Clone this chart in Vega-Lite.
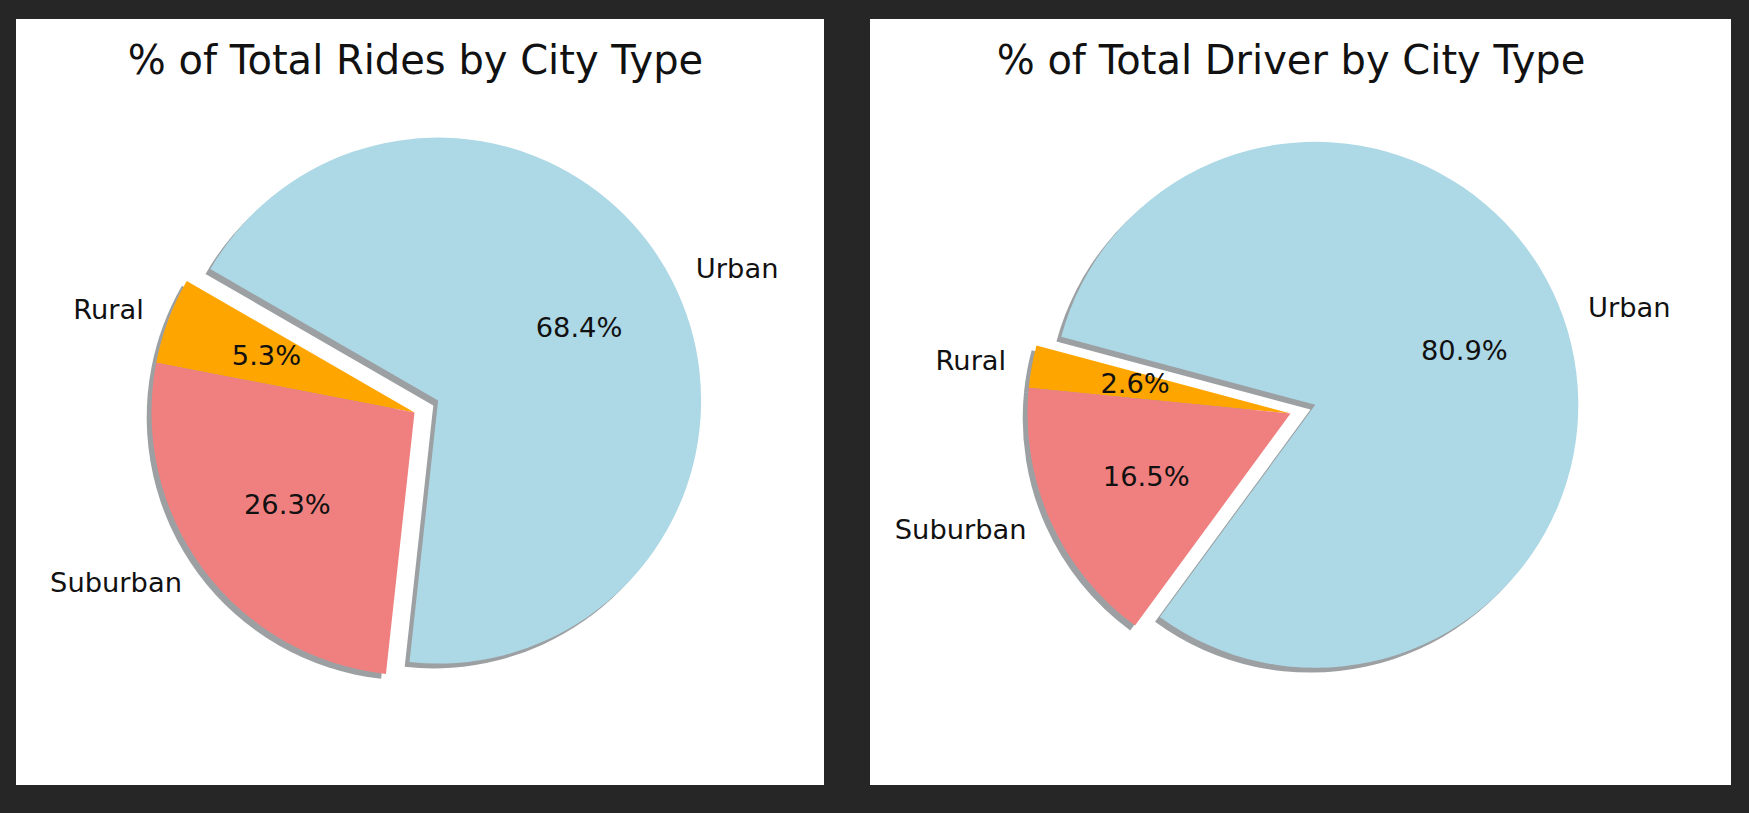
{
  "$schema": "https://vega.github.io/schema/vega-lite/v6.json",
  "background": "#262626",
  "padding": {"left": 16, "top": 19, "right": 18, "bottom": 28},
  "autosize": {"type": "pad"},
  "spacing": 46,
  "config": {
    "font": "DejaVu Sans",
    "view": {"fill": "white", "stroke": null},
    "title": {"font": "DejaVu Sans", "fontSize": 40, "fontWeight": "normal", "color": "#111111", "baseline": "alphabetic", "anchor": "middle"}
  },
  "datasets": {
    "rides": [
      {"type": "Rural", "share": 0.053},
      {"type": "Suburban", "share": 0.263},
      {"type": "Urban", "share": 0.684}
    ],
    "drivers": [
      {"type": "Rural", "share": 0.026},
      {"type": "Suburban", "share": 0.165},
      {"type": "Urban", "share": 0.809}
    ]
  },
  "hconcat": [
    {
      "width": 808,
      "height": 766,
      "view": {"fill": "white", "stroke": null},
      "data": {"name": "rides"},
      "title": {"text": "% of Total Rides by City Type", "offset": -63, "dx": -4.5},
      "encoding": {
        "theta": {"field": "share", "type": "quantitative", "stack": true, "scale": {"domain": [0, 1], "range": [-1.0472, -7.3304]}},
        "detail": {"field": "type", "type": "nominal"}
      },
      "layer": [
        {"mark": {"type": "arc", "radius": 263, "xOffset": -10.3, "yOffset": 15.3, "fill": "#3a4245"},
         "encoding": {"opacity": {"condition": {"test": "datum.type !== 'Urban'", "value": 0.5}, "value": 0}}},
        {"mark": {"type": "arc", "radius": 263, "xOffset": 13.3, "yOffset": 3.4, "fill": "#3a4245"},
         "encoding": {"opacity": {"condition": {"test": "datum.type === 'Urban'", "value": 0.5}, "value": 0}}},
        {"mark": {"type": "arc", "radius": 263, "xOffset": -5.5, "yOffset": 10.5},
         "encoding": {
           "color": {"field": "type", "type": "nominal", "legend": null, "scale": {"domain": ["Rural", "Suburban", "Urban"], "range": ["#FFA500", "#F08080", "#ADD8E6"]}},
           "opacity": {"condition": {"test": "datum.type !== 'Urban'", "value": 1}, "value": 0}}},
        {"mark": {"type": "arc", "radius": 263, "xOffset": 18.1, "yOffset": -1.4},
         "encoding": {
           "color": {"field": "type", "type": "nominal", "legend": null, "scale": {"domain": ["Rural", "Suburban", "Urban"], "range": ["#FFA500", "#F08080", "#ADD8E6"]}},
           "opacity": {"condition": {"test": "datum.type === 'Urban'", "value": 1}, "value": 0}}},
        {"mark": {"type": "text", "radius": 158, "xOffset": -5.5, "yOffset": 10.5, "fontSize": 27.3, "color": "#111111", "align": "center", "baseline": "middle"},
         "encoding": {"text": {"field": "share", "type": "quantitative", "format": ".1%"},
           "opacity": {"condition": {"test": "datum.type !== 'Urban'", "value": 1}, "value": 0}}},
        {"mark": {"type": "text", "radius": 158, "xOffset": 18.1, "yOffset": -1.4, "fontSize": 27.3, "color": "#111111", "align": "center", "baseline": "middle"},
         "encoding": {"text": {"field": "share", "type": "quantitative", "format": ".1%"},
           "opacity": {"condition": {"test": "datum.type === 'Urban'", "value": 1}, "value": 0}}},
        {"mark": {"type": "text", "radius": 289, "xOffset": -5.5, "yOffset": 10.5, "fontSize": 27.3, "color": "#111111", "align": "right", "baseline": "middle"},
         "encoding": {"text": {"field": "type", "type": "nominal"},
           "opacity": {"condition": {"test": "datum.type !== 'Urban'", "value": 1}, "value": 0}}},
        {"mark": {"type": "text", "radius": 289, "xOffset": 18.1, "yOffset": -1.4, "fontSize": 27.3, "color": "#111111", "align": "left", "baseline": "middle"},
         "encoding": {"text": {"field": "type", "type": "nominal"},
           "opacity": {"condition": {"test": "datum.type === 'Urban'", "value": 1}, "value": 0}}}
      ]
    },
    {
      "width": 861,
      "height": 766,
      "view": {"fill": "white", "stroke": null},
      "data": {"name": "drivers"},
      "title": {"text": "% of Total Driver by City Type", "offset": -63, "dx": -9.5},
      "encoding": {
        "theta": {"field": "share", "type": "quantitative", "stack": true, "scale": {"domain": [0, 1], "range": [-1.309, -7.5922]}},
        "detail": {"field": "type", "type": "nominal"}
      },
      "layer": [
        {"mark": {"type": "arc", "radius": 263, "xOffset": -14.8, "yOffset": 16.3, "fill": "#3a4245"},
         "encoding": {"opacity": {"condition": {"test": "datum.type !== 'Urban'", "value": 0.5}, "value": 0}}},
        {"mark": {"type": "arc", "radius": 263, "xOffset": 10, "yOffset": 7.6, "fill": "#3a4245"},
         "encoding": {"opacity": {"condition": {"test": "datum.type === 'Urban'", "value": 0.5}, "value": 0}}},
        {"mark": {"type": "arc", "radius": 263, "xOffset": -10, "yOffset": 11.5},
         "encoding": {
           "color": {"field": "type", "type": "nominal", "legend": null, "scale": {"domain": ["Rural", "Suburban", "Urban"], "range": ["#FFA500", "#F08080", "#ADD8E6"]}},
           "opacity": {"condition": {"test": "datum.type !== 'Urban'", "value": 1}, "value": 0}}},
        {"mark": {"type": "arc", "radius": 263, "xOffset": 14.8, "yOffset": 2.8},
         "encoding": {
           "color": {"field": "type", "type": "nominal", "legend": null, "scale": {"domain": ["Rural", "Suburban", "Urban"], "range": ["#FFA500", "#F08080", "#ADD8E6"]}},
           "opacity": {"condition": {"test": "datum.type === 'Urban'", "value": 1}, "value": 0}}},
        {"mark": {"type": "text", "radius": 158, "xOffset": -10, "yOffset": 11.5, "fontSize": 27.3, "color": "#111111", "align": "center", "baseline": "middle"},
         "encoding": {"text": {"field": "share", "type": "quantitative", "format": ".1%"},
           "opacity": {"condition": {"test": "datum.type !== 'Urban'", "value": 1}, "value": 0}}},
        {"mark": {"type": "text", "radius": 158, "xOffset": 14.8, "yOffset": 2.8, "fontSize": 27.3, "color": "#111111", "align": "center", "baseline": "middle"},
         "encoding": {"text": {"field": "share", "type": "quantitative", "format": ".1%"},
           "opacity": {"condition": {"test": "datum.type === 'Urban'", "value": 1}, "value": 0}}},
        {"mark": {"type": "text", "radius": 289, "xOffset": -10, "yOffset": 11.5, "fontSize": 27.3, "color": "#111111", "align": "right", "baseline": "middle"},
         "encoding": {"text": {"field": "type", "type": "nominal"},
           "opacity": {"condition": {"test": "datum.type !== 'Urban'", "value": 1}, "value": 0}}},
        {"mark": {"type": "text", "radius": 289, "xOffset": 14.8, "yOffset": 2.8, "fontSize": 27.3, "color": "#111111", "align": "left", "baseline": "middle"},
         "encoding": {"text": {"field": "type", "type": "nominal"},
           "opacity": {"condition": {"test": "datum.type === 'Urban'", "value": 1}, "value": 0}}}
      ]
    }
  ]
}
